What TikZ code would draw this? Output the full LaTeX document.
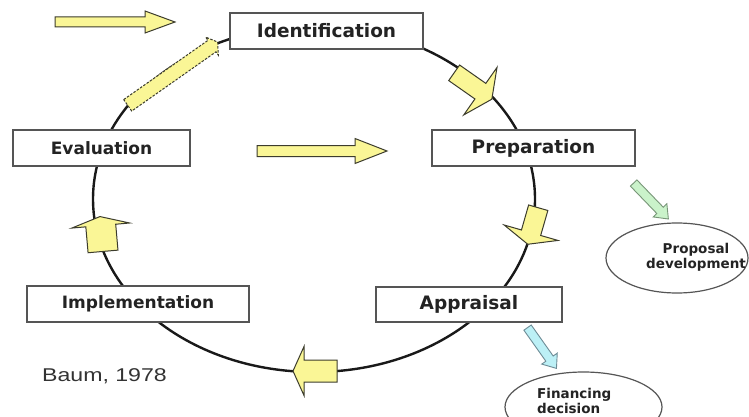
\documentclass[tikz,border=0pt]{standalone}
\usepackage{fontspec}
\setmainfont{DejaVu Sans}
\newfontfamily\citefont{Liberation Sans}
\usetikzlibrary{shapes.geometric}

\definecolor{arrowfill}{RGB}{250,246,150}
\definecolor{arrowedge}{RGB}{60,60,45}
\definecolor{greenfill}{RGB}{202,242,202}
\definecolor{greenedge}{RGB}{120,150,120}
\definecolor{cyanfill}{RGB}{188,240,246}
\definecolor{cyanedge}{RGB}{110,140,150}
\definecolor{boxedge}{RGB}{85,85,85}
\definecolor{labeltext}{RGB}{35,35,35}

\tikzset{
  stage/.style={draw=boxedge, line width=1.3pt, fill=white, inner sep=0pt,
    text=labeltext, font=\bfseries\fontsize{18.5}{22}\selectfont},
  smallstage/.style={stage, font=\bfseries\fontsize{17}{20}\selectfont},
  outcome/.style={ellipse, draw=boxedge, line width=1.2pt, fill=white, inner sep=0pt},
  outcometext/.style={text=labeltext, font=\bfseries\fontsize{13.5}{14.5}\selectfont, inner sep=0pt},
  yellowarrow/.style={fill=arrowfill, draw=arrowedge, line width=1pt, line join=miter},
  % block arrow pointing along +x, centred on the origin:
  % #1 length, #2 shaft half width, #3 head half width, #4 head length
  pics/blockarrow/.style n args={4}{code={
    \path[pic actions] (-#1/2,-#2) -- (#1/2-#4,-#2) -- (#1/2-#4,-#3) -- (#1/2,0)
      -- (#1/2-#4,#3) -- (#1/2-#4,#2) -- (-#1/2,#2) -- cycle;
  }}
}

\begin{document}
\begin{tikzpicture}[x=1pt, y=-1pt]
  \clip (0,0) rectangle (749,417);
  \fill[white] (0,0) rectangle (749,417);

  % the project cycle
  \draw[line width=2.4pt, black!90] (314,199) ellipse [x radius=221pt, y radius=173pt];

  % stage boxes
  \node[stage, minimum width=193pt, minimum height=36pt] (ident) at (326.5,31) {Identification};
  \node[stage, minimum width=203pt, minimum height=36pt] (prep) at (533.5,148) {Preparation};
  \node[stage, minimum width=186pt, minimum height=35pt] (appr) at (469,304.5) {Appraisal};
  \node[smallstage, minimum width=222pt, minimum height=36pt] (impl) at (138,304) {Implementation};
  \node[smallstage, minimum width=177pt, minimum height=36pt] (eval) at (101.5,148) {Evaluation};

  % outcomes
  \node[outcome, minimum width=142pt, minimum height=70pt] (propell) at (677,258) {};
  \node[outcometext, align=center] (proptext) at (696,257.5) {Proposal\\development};
  \node[outcome, minimum width=157pt, minimum height=70pt] (finell) at (583.5,407) {};
  \node[outcometext, align=left, anchor=west] (fintext) at (537,401) {Financing\\decision};

  % arrows along the cycle
  \pic[yellowarrow, rotate=-35] (toprep) at (473,86) {blockarrow={46}{9.5}{29}{14}};
  \pic[yellowarrow, rotate=-106] (toappr) at (533,226) {blockarrow={38}{10}{28}{12}};
  \pic[yellowarrow, rotate=180] (toimpl) at (315,371) {blockarrow={44}{11}{24.5}{11}};
  \pic[yellowarrow, rotate=95] (toeval) at (101.5,234) {blockarrow={35}{15}{29}{9}};
  \pic[yellowarrow, dashed, dash pattern=on 2.5pt off 1.5pt, rotate=35.1] (toident) at (172.7,73.7) {blockarrow={110}{7}{11}{7}};

  % free arrows
  \pic[yellowarrow] (intoident) at (115,22) {blockarrow={120}{5}{11}{30}};
  \pic[yellowarrow] (intoprep) at (322,151) {blockarrow={130}{5.5}{12.5}{32}};
  \pic[fill=greenfill, draw=greenedge, line width=0.9pt, rotate=-46] (toprop) at (651,201) {blockarrow={50}{4.5}{9.5}{12}};
  \pic[fill=cyanfill, draw=cyanedge, line width=0.9pt, rotate=-54.7] (tofin) at (542,348) {blockarrow={50}{4.5}{9.5}{12}};

  % source
  \node[inner sep=0pt, text=black!80, font=\citefont\fontsize{18.5}{22}\selectfont] (source) at (104.5,376)
    {\scalebox{1.25}[1]{Baum, 1978}};
\end{tikzpicture}
\end{document}
